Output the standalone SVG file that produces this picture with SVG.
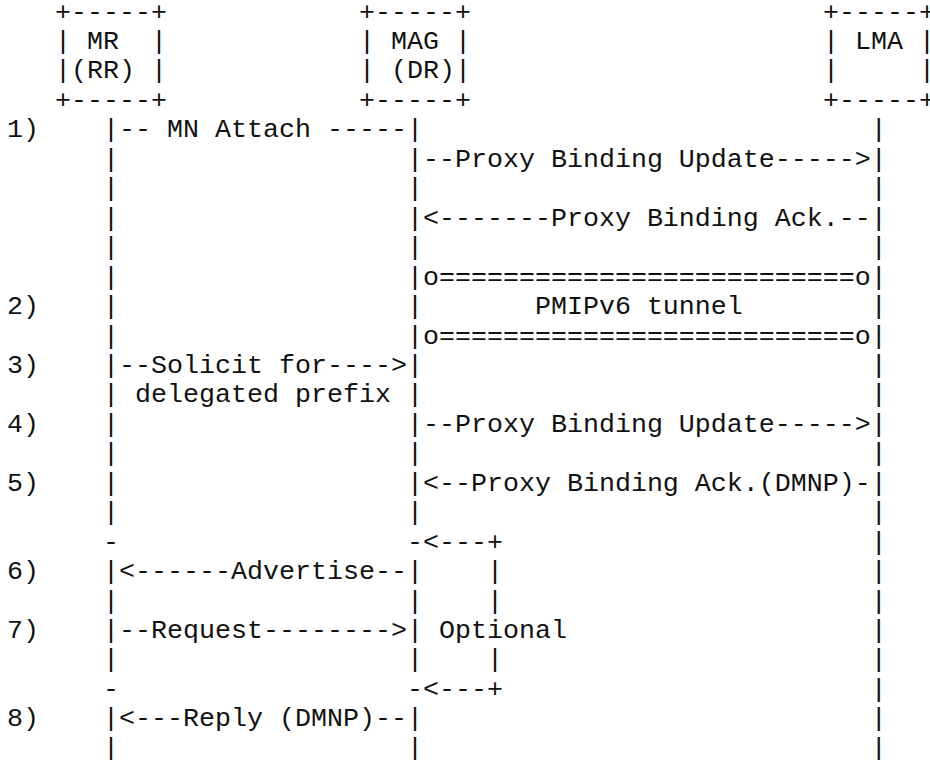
<svg xmlns="http://www.w3.org/2000/svg" width="930" height="760" viewBox="0 0 930 760">
<style>
text{font-family:"Liberation Mono","DejaVu Sans Mono",monospace;font-size:26.667px;fill:#111;white-space:pre}
</style>
<rect width="930" height="760" fill="#fff"/>
<g id="node-mr" xml:space="preserve">
<text x="55" y="19.5">+-----+</text>
<text x="55" y="49">| MR  |</text>
<text x="55" y="78.4">|(RR) |</text>
<text x="55" y="107.9">+-----+</text>
</g>
<g id="node-mag" xml:space="preserve">
<text x="359" y="19.5">+-----+</text>
<text x="359" y="49">| MAG |</text>
<text x="359" y="78.4">| (DR)|</text>
<text x="359" y="107.9">+-----+</text>
</g>
<g id="node-lma" xml:space="preserve">
<text x="823" y="19.5">+-----+</text>
<text x="823" y="49">| LMA |</text>
<text x="823" y="78.4">|     |</text>
<text x="823" y="107.9">+-----+</text>
</g>
<g id="steps">
<text x="7" y="137.3">1)</text>
<text x="7" y="314">2)</text>
<text x="7" y="372.9">3)</text>
<text x="7" y="431.8">4)</text>
<text x="7" y="490.7">5)</text>
<text x="7" y="579">6)</text>
<text x="7" y="637.9">7)</text>
<text x="7" y="726.3">8)</text>
</g>
<g id="connectors" xml:space="preserve">
<text x="103" y="137.3">|-- MN Attach -----|                            |</text>
<text x="103" y="166.8">|                  |--Proxy Binding Update-----&gt;|</text>
<text x="103" y="196.2">|                  |                            |</text>
<text x="103" y="225.7">|                  |&lt;-------Proxy Binding Ack.--|</text>
<text x="103" y="255.1">|                  |                            |</text>
<text x="103" y="284.6">|                  |o==========================o|</text>
<text x="103" y="314">|                  |       PMIPv6 tunnel        |</text>
<text x="103" y="343.5">|                  |o==========================o|</text>
<text x="103" y="372.9">|--Solicit for----&gt;|                            |</text>
<text x="103" y="402.4">| delegated prefix |                            |</text>
<text x="103" y="431.8">|                  |--Proxy Binding Update-----&gt;|</text>
<text x="103" y="461.3">|                  |                            |</text>
<text x="103" y="490.7">|                  |&lt;--Proxy Binding Ack.(DMNP)-|</text>
<text x="103" y="520.2">|                  |                            |</text>
<text x="103" y="549.6">-                  -&lt;---+                       |</text>
<text x="103" y="579">|&lt;------Advertise--|    |                       |</text>
<text x="103" y="608.5">|                  |    |                       |</text>
<text x="103" y="637.9">|--Request--------&gt;| Optional                   |</text>
<text x="103" y="667.4">|                  |    |                       |</text>
<text x="103" y="696.8">-                  -&lt;---+                       |</text>
<text x="103" y="726.3">|&lt;---Reply (DMNP)--|                            |</text>
<text x="103" y="755.7">|                  |                            |</text>
</g>
</svg>
